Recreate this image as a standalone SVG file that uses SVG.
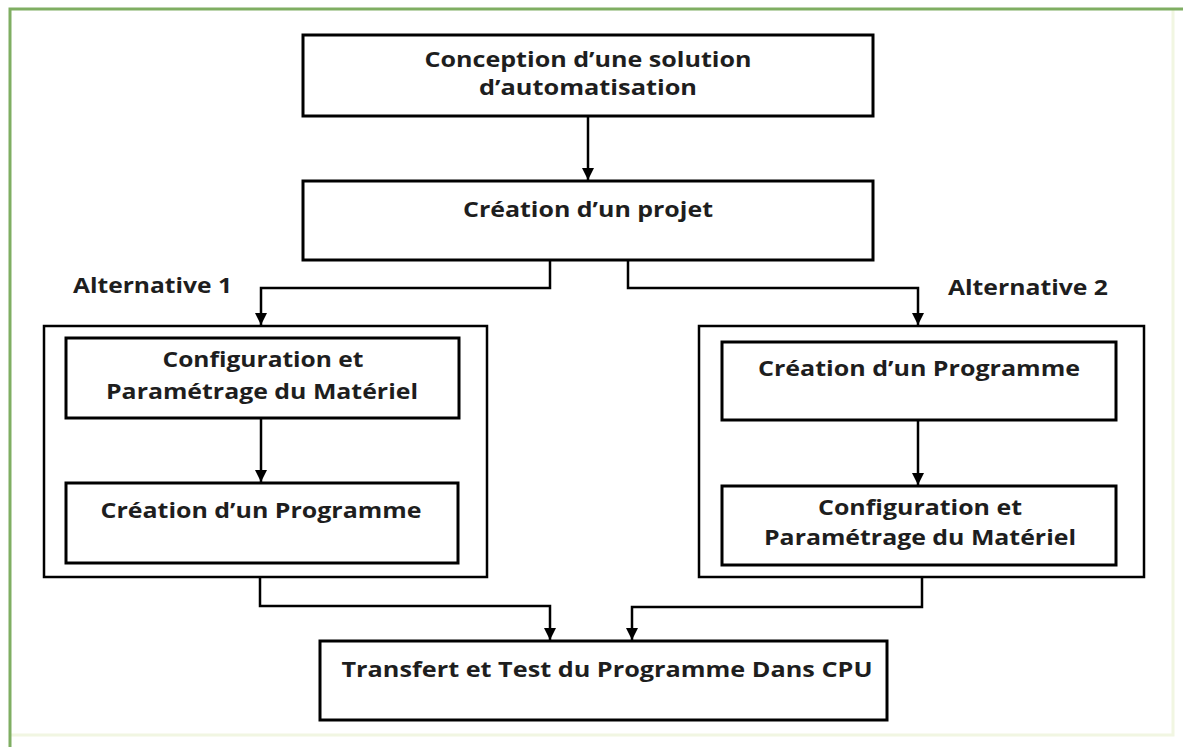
<svg xmlns="http://www.w3.org/2000/svg" width="1183" height="747" viewBox="0 0 1183 747">
<style>
  .box { fill: #ffffff; stroke: #000000; stroke-width: 3; }
  .outer { fill: #ffffff; stroke: #000000; stroke-width: 2.5; }
  .t { font-family: "Open Sans", "Liberation Sans", sans-serif; font-weight: 700; font-size: 22px; fill: #1e1e1e; text-anchor: middle; font-variant-ligatures: none; }
  .lbl { font-family: "Open Sans", "Liberation Sans", sans-serif; font-weight: 700; font-size: 22px; fill: #1e1e1e; font-variant-ligatures: none; }
  .c { fill: none; stroke: #000000; stroke-width: 2.5; marker-end: url(#ah); }
</style>
<defs>
  <marker id="ah" markerUnits="userSpaceOnUse" markerWidth="12" markerHeight="12" viewBox="0 0 12 12" refX="12" refY="6" orient="auto">
    <path d="M0,0 L12,6 L0,12 z" fill="#000000"/>
  </marker>
</defs>
<rect x="0" y="0" width="1183" height="747" fill="#ffffff"/>
<g id="frame">
  <path d="M1173,9 V735 H10" fill="none" stroke="#f1f6e2" stroke-width="3"/>
  <path d="M10,747 V9 H1183" fill="none" stroke="#7fae62" stroke-width="3"/>
</g>
<g id="alt1">
  <rect class="outer" x="44" y="326" width="443" height="251"/>
</g>
<g id="alt2">
  <rect class="outer" x="699" y="326" width="445" height="251"/>
</g>
<g id="n1">
  <rect class="box" x="303" y="35" width="570" height="81"/>
  <text class="t" x="588" y="67" textLength="327" lengthAdjust="spacingAndGlyphs">Conception d’une solution</text>
  <text class="t" x="588" y="95" textLength="218" lengthAdjust="spacingAndGlyphs">d’automatisation</text>
</g>
<g id="n2">
  <rect class="box" x="303" y="181" width="570" height="79"/>
  <text class="t" x="588" y="217" textLength="250" lengthAdjust="spacingAndGlyphs">Création d’un projet</text>
</g>
<g id="alt1label">
  <text class="lbl" x="73" y="293" textLength="159" lengthAdjust="spacingAndGlyphs">Alternative 1</text>
</g>
<g id="alt2label">
  <text class="lbl" x="948" y="295" textLength="160" lengthAdjust="spacingAndGlyphs">Alternative 2</text>
</g>
<g id="a1_config">
  <rect class="box" x="66" y="338" width="393" height="80"/>
  <text class="t" x="263" y="367" textLength="201" lengthAdjust="spacingAndGlyphs">Configuration et</text>
  <text class="t" x="262" y="399" textLength="312" lengthAdjust="spacingAndGlyphs">Paramétrage du Matériel</text>
</g>
<g id="a1_prog">
  <rect class="box" x="66" y="483" width="392" height="80"/>
  <text class="t" x="261" y="518" textLength="321" lengthAdjust="spacingAndGlyphs">Création d’un Programme</text>
</g>
<g id="a2_prog">
  <rect class="box" x="722" y="342" width="394" height="78"/>
  <text class="t" x="919" y="376" textLength="322" lengthAdjust="spacingAndGlyphs">Création d’un Programme</text>
</g>
<g id="a2_config">
  <rect class="box" x="722" y="486" width="394" height="79"/>
  <text class="t" x="920" y="515" textLength="204" lengthAdjust="spacingAndGlyphs">Configuration et</text>
  <text class="t" x="920" y="545" textLength="312" lengthAdjust="spacingAndGlyphs">Paramétrage du Matériel</text>
</g>
<g id="n_transfer">
  <rect class="box" x="320" y="641" width="567" height="79"/>
  <text class="t" x="607" y="677" textLength="531" lengthAdjust="spacingAndGlyphs">Transfert et Test du Programme Dans CPU</text>
</g>
<g id="connectors">
  <path class="c" d="M588,116 V180"/>
  <path class="c" d="M550,260 V288 H261 V325"/>
  <path class="c" d="M628,260 V288 H918 V325"/>
  <path class="c" d="M261,418 V482"/>
  <path class="c" d="M918,420 V485"/>
  <path class="c" d="M260,577 V606 H550 V640"/>
  <path class="c" d="M922,577 V607 H632 V640"/>
</g>
</svg>
